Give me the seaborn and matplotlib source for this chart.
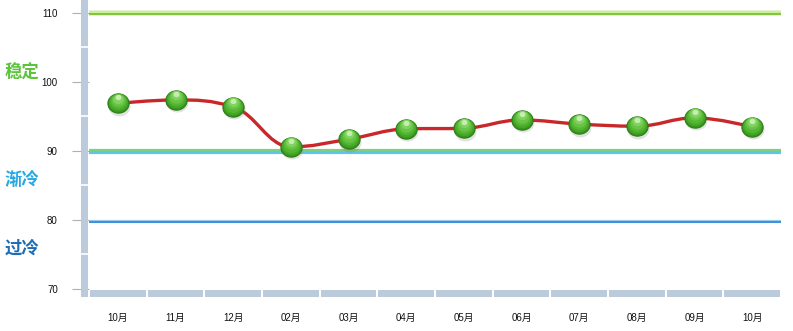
import numpy as np
import pandas as pd
import matplotlib
matplotlib.use("Agg")
import matplotlib.pyplot as plt
import matplotlib.transforms as mtransforms
from matplotlib.path import Path
from matplotlib.patches import PathPatch, Rectangle
import seaborn as sns

months = ["10月", "11月", "12月", "02月", "03月", "04月", "05月", "06月", "07月", "08月", "09月", "10月"]
values = [96.9, 97.4, 96.4, 90.6, 91.7, 93.2, 93.3, 94.5, 93.9, 93.6, 94.8, 93.5]
yticks = [70, 80, 90, 100, 110]
zones = ["稳定", "渐冷", "过冷"]
zone_y = [101.3, 85.8, 75.9]
zone_colors = ["#5cc43c", "#27a8e2", "#1d6cb6"]

sns.set_theme(style="white")
plt.rcParams["font.family"] = ["Liberation Sans", "Noto Sans CJK SC", "DejaVu Sans"]

W, H = 793, 331
fig = plt.figure(figsize=(W / 100, H / 100), dpi=100)
left_px, right_px, bot_px = 89, 781, 289
ymin, ymax = 70, 110.6
px_per = 6.9
top_px = bot_px - (ymax - ymin) * px_per
ax = fig.add_axes([left_px / W, (H - bot_px) / H, (right_px - left_px) / W, (bot_px - top_px) / H])

df = pd.DataFrame({"x": np.arange(len(months)), "y": values})
ax.set_xlim(-0.5, len(months) - 0.5)
ax.set_ylim(ymin, ymax)

# reference lines
ax.axhline(110, color="#7cc846", lw=3.2, zorder=2)
ax.axhline(110 + 0.12, color="#d8ef8e", lw=1.4, zorder=2)
ax.axhline(90 - 0.1, color="#5cc6ea", lw=3.0, zorder=2)
ax.axhline(90 + 0.15, color="#7fd07a", lw=1.6, zorder=2)
ax.axhline(80 - 0.15, color="#3f8fd6", lw=2.2, zorder=2)
ax.axhline(80 + 0.05, color="#9cc9ee", lw=0.8, zorder=2)

# smooth spline (Highcharts-like control points)
xs = df["x"].to_numpy(dtype=float)
ys = df["y"].to_numpy(dtype=float)
sm, den = 1.5, 2.5
verts = [(xs[0], ys[0])]
codes = [Path.MOVETO]
n = len(xs)
ctrl = []
for i in range(n):
    if i == 0 or i == n - 1:
        ctrl.append(((xs[i], ys[i]), (xs[i], ys[i])))
        continue
    lx, ly = xs[i - 1], ys[i - 1]
    nx, ny = xs[i + 1], ys[i + 1]
    x, y = xs[i], ys[i]
    lcx = (sm * x + lx) / den
    lcy = (sm * y + ly) / den
    rcx = (sm * x + nx) / den
    rcy = (sm * y + ny) / den
    corr = ((rcy - lcy) * (rcx - x)) / (rcx - lcx) + y - rcy
    lcy += corr
    rcy += corr
    if lcy > max(ly, y):
        lcy = max(ly, y); rcy = 2 * y - lcy
    elif lcy < min(ly, y):
        lcy = min(ly, y); rcy = 2 * y - lcy
    if rcy > max(y, ny):
        rcy = max(y, ny); lcy = 2 * y - rcy
    elif rcy < min(y, ny):
        rcy = min(y, ny); lcy = 2 * y - rcy
    ctrl.append(((lcx, lcy), (rcx, rcy)))
for i in range(1, n):
    verts += [ctrl[i - 1][1], ctrl[i][0], (xs[i], ys[i])]
    codes += [Path.CURVE4] * 3
ax.add_patch(PathPatch(Path(verts, codes), fill=False, edgecolor="#c8282a", lw=2.4,
                       capstyle="round", joinstyle="round", zorder=4))

# sphere markers
t = np.linspace(0, 2 * np.pi, 60)
ell_marker = Path(np.column_stack([1.1 * np.cos(t), np.sin(t)]))
def off(dy, dx=0):
    return mtransforms.offset_copy(ax.transData, fig=fig, x=dx, y=dy, units="dots")
ax.scatter(xs, ys, s=250, marker=ell_marker, color="#777777", alpha=0.22, linewidths=0,
           transform=off(-2.5, 1), zorder=5)
sns.scatterplot(data=df, x="x", y="y", ax=ax, s=235, marker=ell_marker, color="#36951c",
                edgecolor="#2a7a14", linewidth=0.7, zorder=6, legend=False)
layers = [(190, 1.0, "#45a628"), (140, 2.2, "#55b634"), (95, 3.4, "#67c444"),
          (55, 4.8, "#80d35e"), (18, 6.2, "#c4edb0")]
for s_, dy, c in layers:
    ax.scatter(xs, ys, s=s_, marker=ell_marker, color=c, linewidths=0,
               transform=off(dy), zorder=7)

# axis styling
for sp in ax.spines.values():
    sp.set_visible(False)
ax.set_xlabel("")
ax.set_ylabel("")
ax.set_yticks(yticks)
ax.set_yticklabels([str(v) for v in yticks], fontsize=7, color="#111111")
ax.tick_params(axis="y", length=12.5, width=0.8, color="#b0b0b0", pad=10, left=True)
ax.set_xticks(np.arange(len(months)))
ax.set_xticklabels(months, fontsize=7, color="#111111")
ax.tick_params(axis="x", length=0, pad=17)

# left vertical bar
bar_c = "#bccbdb"
bw = 8 / (right_px - left_px)
bh = 8 / (bot_px - top_px)
ax.add_patch(Rectangle((-bw, -bh), bw - 1 / (right_px - left_px), 1 + bh + top_px / (bot_px - top_px),
                       transform=ax.transAxes, color=bar_c, clip_on=False, zorder=3, lw=0))
ybl = mtransforms.blended_transform_factory(ax.transAxes, ax.transData)
for v in [75, 85, 95, 105]:
    ax.plot([-bw, 0], [v, v], color="white", lw=1.2, transform=ybl, clip_on=False, zorder=3.5)

# bottom bar with band gaps
xbl = mtransforms.blended_transform_factory(ax.transData, ax.transAxes)
gap = 2 / ((right_px - left_px) / len(months))
for i in range(len(months)):
    ax.add_patch(Rectangle((i - 0.5 + gap / 2, -bh), 1 - gap, bh - 0.5 / (bot_px - top_px),
                           transform=xbl, color=bar_c, clip_on=False, zorder=3, lw=0))

# zone labels
zone_tr = mtransforms.blended_transform_factory(fig.transFigure, ax.transData)
for lab, yv, c in zip(zones, zone_y, zone_colors):
    fig.text(5 / W, yv, lab, color=c, fontsize=12.5, fontweight="bold",
             family=["Noto Sans CJK SC", "DejaVu Sans"], va="center", ha="left",
             transform=zone_tr)

fig.savefig("out.png", dpi=100)
